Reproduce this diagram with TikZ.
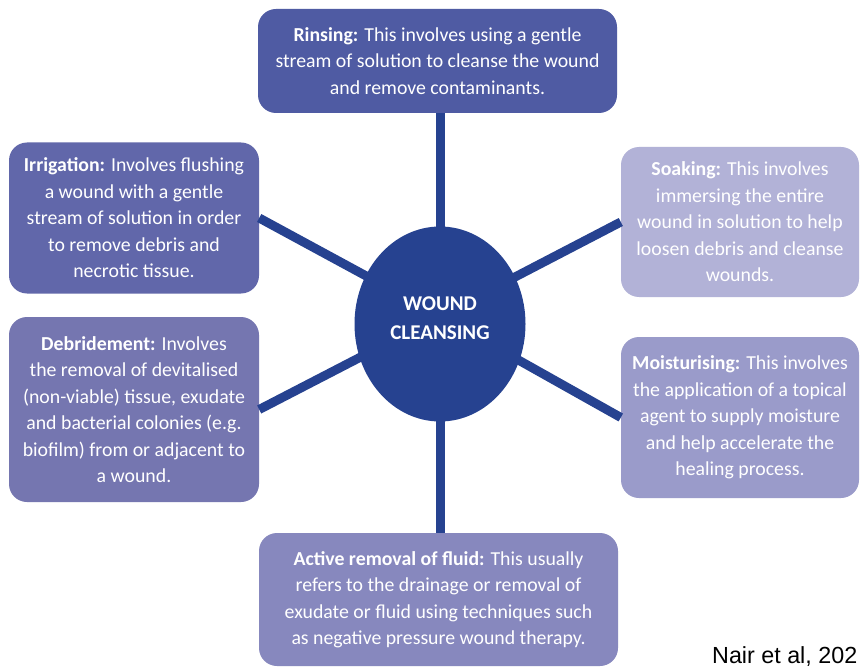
\documentclass[tikz,border=0pt]{standalone}
\usepackage{fontspec}
\setmainfont{Carlito}
\newfontfamily\arialf{Liberation Sans}
\usetikzlibrary{shapes.geometric}
\definecolor{navy}{HTML}{264290}
\definecolor{rinsecol}{HTML}{4F5BA3}
\definecolor{irrigcol}{HTML}{6167AA}
\definecolor{debrcol}{HTML}{7576B0}
\definecolor{activecol}{HTML}{8788BE}
\definecolor{moistcol}{HTML}{9A9BCA}
\definecolor{soakcol}{HTML}{B2B2D7}
\begin{document}
\begin{tikzpicture}[x=1pt,y=-1pt,
  infobox/.style={rounded corners=18pt, text=white, align=center,
    font=\fontsize{19.8}{26.5}\selectfont, inner sep=0pt},
  link/.style={draw=navy, line width=9pt}]
\useasboundingbox[fill=white] (0,0) rectangle (861,668);
\node[infobox, fill=rinsecol, minimum width=359pt, minimum height=104pt] (rinse) at (437.5,61)
  {\textbf{Rinsing:} This involves using a gentle\\stream of solution to cleanse the wound\\and remove contaminants.};
\node[infobox, fill=irrigcol, minimum width=250pt, minimum height=151pt] (irrig) at (134,218)
  {\textbf{Irrigation:} Involves flushing\\a wound with a gentle\\stream of solution in order\\to remove debris and\\necrotic tissue.};
\node[infobox, fill=soakcol, minimum width=238pt, minimum height=150pt] (soak) at (740,222)
  {\textbf{Soaking:} This involves\\immersing the entire\\wound in solution to help\\loosen debris and cleanse\\wounds.};
\node[infobox, fill=debrcol, minimum width=250pt, minimum height=185pt] (debr) at (134,409.5)
  {\textbf{Debridement:} Involves\\the removal of devitalised\\(non-viable) tissue, exudate\\and bacterial colonies (e.g.\\biofilm) from or adjacent to\\a wound.};
\node[infobox, fill=moistcol, minimum width=238pt, minimum height=161pt] (moist) at (740,417.5)
  {\textbf{Moisturising:} This involves\\the application of a topical\\agent to supply moisture\\and help accelerate the\\healing process.};
\node[infobox, fill=activecol, minimum width=359pt, minimum height=133pt] (active) at (438.5,599.5)
  {\textbf{Active removal of fluid:} This usually\\refers to the drainage or removal of\\exudate or fluid using techniques such\\as negative pressure wound therapy.};
\coordinate (hub) at (440,316);
\draw[link] (rinse.south -| hub) -- (hub);
\draw[link] (active.north -| hub) -- (hub);
\draw[link] (irrig.east) -- (hub);
\draw[link] (soak.west) -- (hub);
\draw[link] (debr.east) -- (hub);
\draw[link] (moist.west) -- (hub);
\node[ellipse, fill=navy, inner sep=0pt, minimum width=171pt, minimum height=195pt] (core) at (440,324) {};
\node[text=white, inner sep=0pt, align=center, font=\bfseries\fontsize{21}{29}\selectfont] (coretext) at (440,318) {WOUND\\CLEANSING};
\node[anchor=base west, inner sep=0pt, font=\arialf\fontsize{23.3}{26}\selectfont] (cite) at (712,663) {Nair et al, 202};
\end{tikzpicture}
\end{document}
